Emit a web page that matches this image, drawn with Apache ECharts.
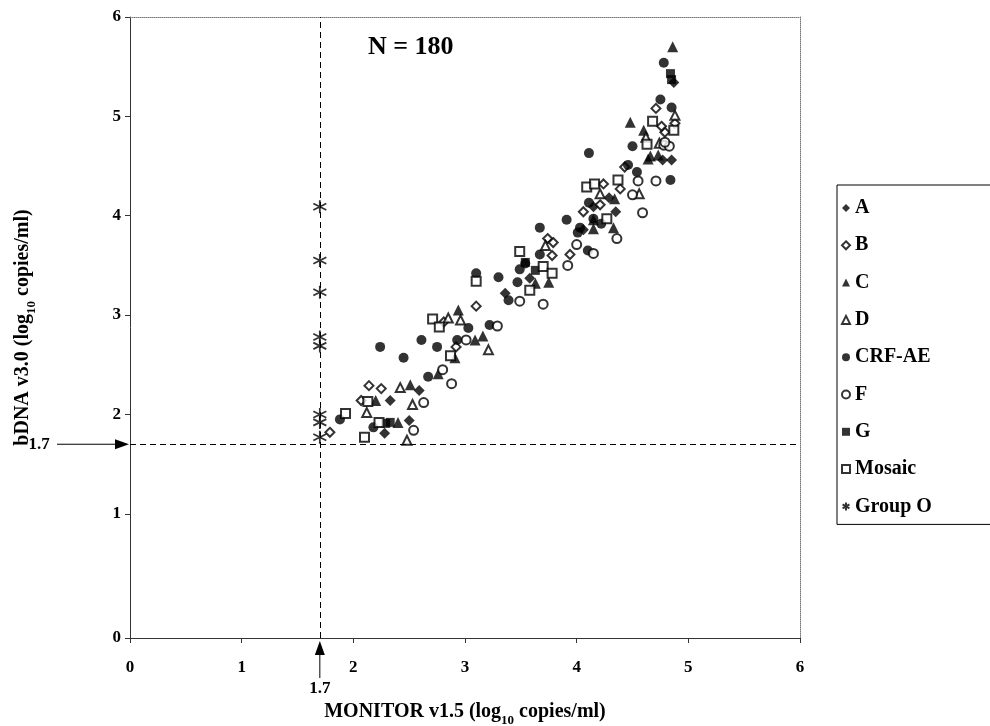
<!DOCTYPE html>
<html><head><meta charset="utf-8">
<script src="https://cdn.jsdelivr.net/npm/echarts@6/dist/echarts.min.js"></script>
<style>html,body{margin:0;padding:0;background:#fff}#c{width:990px;height:726px}</style>
</head><body><div id="c"></div>
<script>
// ---------------- data ----------------
const seriesNames = ['A','B','C','D','CRF-AE','F','G','Mosaic','Group O'];
const xTickValues = [0,1,2,3,4,5,6];
const yTickLabels = ['0','1','2','3','4','5','6'];
const cutoff = 1.7;
const totalN = 180;

const dataA = [[2.59,2.24],[2.33,2.14],[2.28,1.81],[2.50,1.94],[3.36,3.22],[3.58,3.37],[4.06,3.86],[4.15,4.09],[4.29,4.18],[4.35,4.04],[4.77,4.56],[4.85,4.56],[4.87,5.34]];
const dataB = [[1.79,1.82],[2.07,2.14],[2.14,2.29],[2.25,2.26],[2.81,2.93],[2.92,2.68],[3.10,3.09],[3.74,3.77],[3.79,3.73],[3.78,3.60],[3.94,3.61],[4.06,4.04],[4.21,4.11],[4.24,4.32],[4.39,4.27],[4.43,4.49],[4.71,5.08],[4.79,4.84],[4.88,4.93],[4.76,4.90]];
const dataC = [[2.20,2.14],[2.40,1.92],[2.51,2.30],[2.76,2.41],[2.91,2.57],[2.94,3.05],[3.09,2.75],[3.16,2.79],[3.63,3.32],[3.75,3.33],[4.15,3.87],[4.15,3.96],[4.33,3.88],[4.34,4.17],[4.48,4.94],[4.60,4.86],[4.64,4.57],[4.66,4.60],[4.73,4.61],[4.86,5.70]];
const dataD = [[2.12,2.02],[2.42,2.27],[2.53,2.10],[2.48,1.74],[2.85,2.97],[2.96,2.95],[3.21,2.65],[3.72,3.70],[4.21,4.22],[4.56,4.22],[4.88,5.01],[4.62,4.79],[4.74,4.73]];
const dataAE = [[1.88,1.95],[2.18,1.87],[2.24,2.68],[2.45,2.57],[2.61,2.75],[2.75,2.68],[2.93,2.75],[2.67,2.38],[3.03,2.87],[3.10,3.42],[3.30,3.38],[3.47,3.33],[3.39,3.15],[3.49,3.46],[3.54,3.52],[3.67,3.88],[3.67,3.61],[3.91,3.96],[4.01,3.83],[4.03,3.88],[4.10,3.65],[4.11,4.63],[4.11,4.13],[4.15,3.97],[4.22,3.92],[4.46,4.51],[4.50,4.70],[4.54,4.44],[4.84,4.36],[4.75,5.17],[4.78,5.54],[4.85,5.09],[3.22,2.90]];
const dataF = [[2.54,1.84],[2.63,2.12],[2.80,2.45],[2.88,2.31],[3.01,2.75],[3.29,2.89],[3.49,3.14],[3.70,3.11],[3.92,3.50],[4.00,3.71],[4.15,3.62],[4.36,3.77],[4.50,4.21],[4.55,4.35],[4.59,4.03],[4.71,4.35],[4.78,4.71],[4.83,4.70],[4.79,4.74]];
const dataG = [[2.29,1.91],[2.33,1.92],[3.54,3.53],[3.63,3.45],[4.84,5.43],[4.85,5.37]];
const dataMosaic = [[1.93,2.01],[2.13,2.13],[2.10,1.77],[2.23,1.92],[2.71,2.96],[2.77,2.88],[2.87,2.59],[3.10,3.34],[3.49,3.64],[3.58,3.25],[3.70,3.49],[3.78,3.42],[4.09,4.29],[4.16,4.32],[4.27,3.97],[4.37,4.36],[4.63,4.72],[4.68,4.95],[4.87,4.86]];
const groupOx = 1.70;
const groupOy = [4.09,3.55,3.23,2.78,2.69,2.00,1.92,1.77];

// ---------------- chart ----------------
const FONT = 'Liberation Serif';
const yMin = -0.25, yMax = 6;
const yTickValues = [yMin,1,2,3,4,5,6];
const grid = {left:130, top:17, right:190, bottom:88};
const chart = echarts.init(document.getElementById('c'), null, {renderer:'canvas'});

function sc(name, data, symbol, size, extra){
  return Object.assign({
    name, type:'scatter', data, symbol, symbolSize:size,
    itemStyle:{color:'#000'}, emphasis:{disabled:true}, animation:false, silent:true
  }, extra||{});
}
const rich = {
  t:{fontFamily:FONT, fontWeight:'bold', fontSize:20, color:'#000', lineHeight:24},
  s:{fontFamily:FONT, fontWeight:'bold', fontSize:13, color:'#000', lineHeight:13, verticalAlign:'bottom', padding:[0,0,-3,0]}
};
const labelStyle = {fontFamily:FONT, fontWeight:'bold', fontSize:17, color:'#000'};
const asterisk = 'path://M5,0L5,10M0.7,2.5L9.3,7.5M0.7,7.5L9.3,2.5';

const option = {
  backgroundColor:'#fff',
  animation:false,
  grid:{left:grid.left, top:grid.top, right:grid.right, bottom:grid.bottom, show:false,
        containLabel:false, outerBoundsMode:'none'},
  legend:{
    data:seriesNames, orient:'vertical', left:837, top:185,
    itemWidth:8, itemHeight:8, itemGap:17.3, selectedMode:false,
    textStyle:{fontFamily:FONT, fontWeight:'bold', fontSize:20, color:'#000', lineHeight:20},
    borderColor:'#000', borderWidth:1, padding:[13,80,8,4], backgroundColor:'#fff'
  },
  xAxis:[{
    type:'value', min:0, max:6, interval:1, position:'bottom',
    axisLine:{onZero:false, lineStyle:{color:'#333', width:1}},
    axisTick:{show:true, length:5, lineStyle:{color:'#333'}},
    axisLabel:Object.assign({margin:21, formatter:v=>String(v)}, labelStyle),
    splitLine:{show:false},
    name:'{t|MONITOR v1.5 (log}{s|10}{t| copies/ml)}', nameLocation:'middle', nameGap:62,
    nameTextStyle:{rich}
  },{
    type:'value', min:0, max:6, position:'top',
    axisLine:{show:true, onZero:false, lineStyle:{color:'#777', type:'dotted', width:1}},
    axisTick:{show:false}, axisLabel:{show:false}, splitLine:{show:false}
  }],
  yAxis:[{
    type:'value', min:yMin, max:yMax, position:'left',
    axisLine:{onZero:false, lineStyle:{color:'#333', width:1}},
    axisTick:{show:true, length:5, customValues:yTickValues, lineStyle:{color:'#333'}},
    axisLabel:Object.assign({margin:9, customValues:yTickValues,
      formatter:v=>yTickLabels[Math.max(0, Math.round(v))]}, labelStyle),
    splitLine:{show:false},
    name:'{t|bDNA v3.0 (log}{s|10}{t| copies/ml)}', nameLocation:'middle', nameGap:95, nameRotate:90,
    nameTextStyle:{rich}
  },{
    type:'value', min:yMin, max:yMax, position:'right',
    axisLine:{show:true, onZero:false, lineStyle:{color:'#777', type:'dotted', width:1}},
    axisTick:{show:false}, axisLabel:{show:false}, splitLine:{show:false}
  }],
  series:[
    sc('A', dataA, 'diamond', 11),
    sc('B', dataB, 'emptyDiamond', 9),
    sc('C', dataC, 'triangle', 11),
    sc('D', dataD, 'emptyTriangle', 9),
    sc('CRF-AE', dataAE, 'circle', 10),
    sc('F', dataF, 'emptyCircle', 9),
    sc('G', dataG, 'rect', 9),
    sc('Mosaic', dataMosaic, 'emptyRect', 9),
    sc('Group O', groupOy.map(y=>[groupOx,y]), asterisk, 13, {
      itemStyle:{color:'rgba(0,0,0,0)', borderColor:'#000', borderWidth:1.8},
      markLine:{silent:true, symbol:['none','none'], label:{show:false}, animation:false,
        lineStyle:{color:'#000', type:[6,4], width:1},
        emphasis:{disabled:true},
        data:[{xAxis:cutoff},{yAxis:cutoff}]}
    })
  ]
};
chart.setOption(option);

// annotation arrows placed through the axis scales
const px = chart.convertToPixel({xAxisIndex:0}, cutoff);
const py = chart.convertToPixel({yAxisIndex:0}, cutoff);
const gl = chart.convertToPixel({xAxisIndex:0}, 0);
const gb = chart.convertToPixel({yAxisIndex:0}, yMin);
const tf = 'bold 17px "Liberation Serif"';
chart.setOption({graphic:[
  {type:'text', left:368, top:34, style:{text:'N = ' + totalN, font:'bold 26px "Liberation Serif"', fill:'#000'}},
  {type:'line', shape:{x1:57, y1:py, x2:gl-12, y2:py}, style:{stroke:'#000', lineWidth:1}},
  {type:'polygon', shape:{points:[[gl-1,py],[gl-15,py-5],[gl-15,py+5]]}, style:{fill:'#000'}},
  {type:'text', x:39, y:py, style:{text:'1.7', font:tf, fill:'#000', align:'center', verticalAlign:'middle'}},
  {type:'line', shape:{x1:px, y1:gb+14, x2:px, y2:gb+40}, style:{stroke:'#000', lineWidth:1}},
  {type:'polygon', shape:{points:[[px,gb+3],[px-5,gb+17],[px+5,gb+17]]}, style:{fill:'#000'}},
  {type:'text', x:px, y:gb+51, style:{text:'1.7', font:tf, fill:'#000', align:'center', verticalAlign:'middle'}}
]});
</script>
</body></html>
